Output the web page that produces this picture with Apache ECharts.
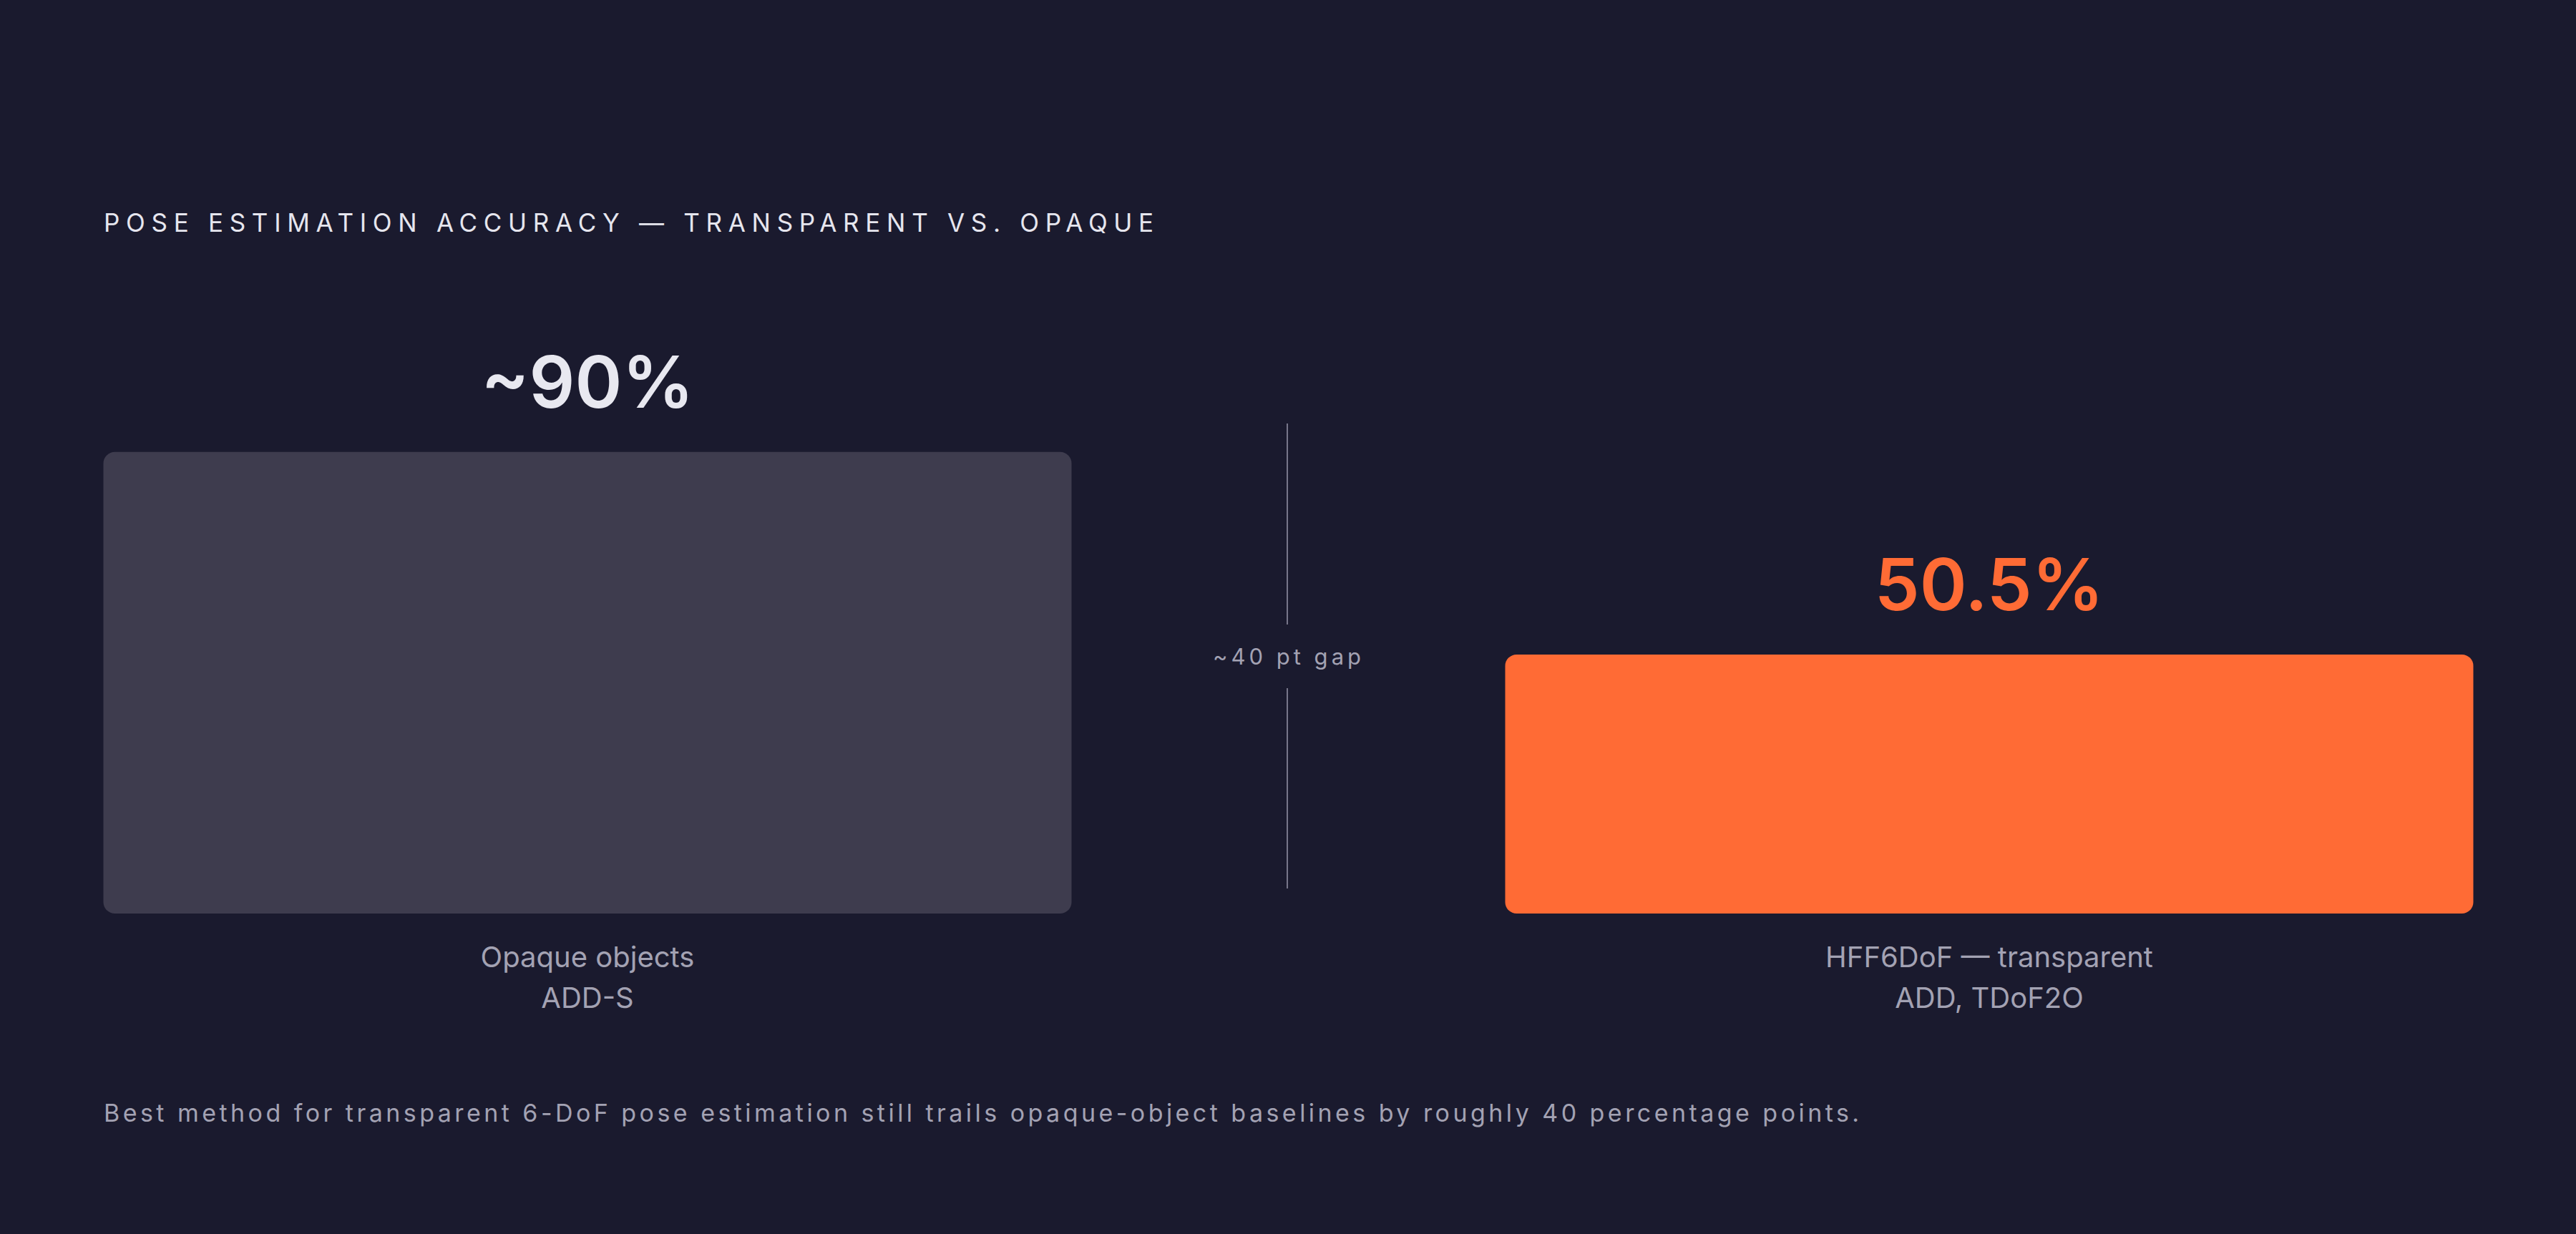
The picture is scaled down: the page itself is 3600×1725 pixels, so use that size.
<!DOCTYPE html>
<html>
<head>
<meta charset="utf-8">
<script src="https://cdn.jsdelivr.net/npm/echarts@6/dist/echarts.min.js"></script>
<style>
    html, body {margin: 0; padding: 0; background: #1a1a2e;}
    #chart {width: 3600px; height: 1725px;}
    /* zrender svg text carries its font in the style attribute, so size picks the spacing */
    #chart text[style*="35px"] {letter-spacing: 8.7px;}
    #chart text[style*="34px"] {letter-spacing: 4.45px;}
    #chart text[style*="31px"] {letter-spacing: 5px;}
</style>
</head>
<body>
<div id="chart"></div>
<script>
    const categoryNames = ['Opaque objects', 'HFF6DoF — transparent']
    const metricNames = ['ADD-S', 'ADD, TDoF2O']
    const accuracy = [90, 50.5]
    const accuracyLabels = ['~90%', '50.5%']
    const barColors = ['#3e3c4e', '#ff6b35']
    const labelColors = ['#e8e8f0', '#ff6b35']

    const titleText = 'POSE ESTIMATION ACCURACY — TRANSPARENT VS. OPAQUE'
    const gapText = '~40 pt gap'
    const footerText = 'Best method for transparent 6-DoF pose estimation still trails opaque-object baselines by roughly 40 percentage points.'

    const font = 'Inter'

    const categories = categoryNames.map((name, i) => name + '\n' + metricNames[i])

    const barData = accuracy.map((v, i) => ({
        value: v,
        itemStyle: {color: barColors[i]},
        label: {color: labelColors[i]}
    }))

    const chart = echarts.init(document.getElementById('chart'), null, {renderer: 'svg'})
    chart.setOption({
        backgroundColor: '#1a1a2e',
        animation: false,
        textStyle: {fontFamily: font},
        title: {
            text: titleText,
            left: 145,
            top: 293,
            padding: 0,
            textStyle: {color: '#e6e6ee', fontSize: 35, fontWeight: 400, fontFamily: font}
        },
        grid: {left: 821, right: 820, top: 560, bottom: 448},
        xAxis: {
            type: 'category',
            data: categories,
            boundaryGap: false,
            axisLine: {show: false},
            axisTick: {show: false},
            axisLabel: {
                color: '#a3a2b3',
                fontSize: 40,
                lineHeight: 57,
                margin: 32,
                fontFamily: font
            }
        },
        yAxis: {
            type: 'value',
            min: 0,
            max: 100,
            show: false,
            splitLine: {show: false}
        },
        series: [{
            type: 'bar',
            data: barData,
            barWidth: 1353,
            clip: false,
            itemStyle: {borderRadius: 16},
            label: {
                show: true,
                position: 'top',
                distance: 48,
                fontSize: 100,
                fontWeight: 600,
                fontFamily: font,
                formatter: p => accuracyLabels[p.dataIndex]
            }
        }],
        graphic: [
            {
                type: 'line',
                shape: {x1: 1799, y1: 592, x2: 1799, y2: 873},
                style: {stroke: '#77768a', lineWidth: 2}
            },
            {
                type: 'line',
                shape: {x1: 1799, y1: 962, x2: 1799, y2: 1242},
                style: {stroke: '#77768a', lineWidth: 2}
            },
            {
                type: 'text',
                x: 1801,
                y: 917,
                style: {
                    text: gapText,
                    fill: '#a3a2b3',
                    fontSize: 31,
                    fontFamily: font,
                    textAlign: 'center',
                    textVerticalAlign: 'middle'
                }
            },
            {
                type: 'text',
                x: 145,
                y: 1555,
                style: {
                    text: footerText,
                    fill: '#a3a2b3',
                    fontSize: 34,
                    fontFamily: font,
                    textAlign: 'left',
                    textVerticalAlign: 'middle'
                }
            }
        ]
    })
</script>
</body>
</html>
